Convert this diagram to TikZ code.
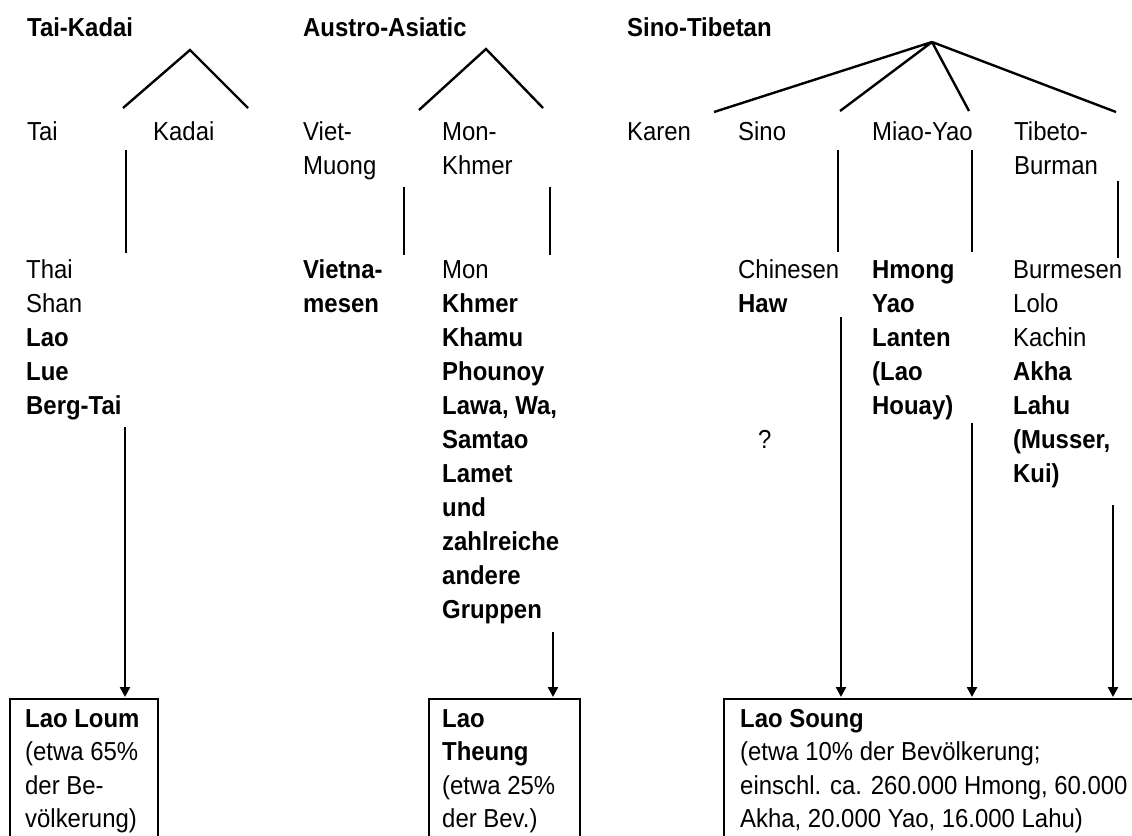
\documentclass[tikz,border=0pt]{standalone}
\usepackage{fontspec}
\setmainfont[FakeStretch=0.92]{Liberation Sans}
\usetikzlibrary{arrows.meta}
\newcommand\fl{\rule{0pt}{20pt}}
\begin{document}
\begin{tikzpicture}[x=1pt,y=-1pt,
  ln/.style={line width=2.4pt},
  arr/.style={line width=2.4pt,-{Triangle[length=10pt,width=10pt]},shorten >=1pt},
  txt/.style={anchor=north west,inner sep=0pt,align=left,font=\fontsize{26}{34}\selectfont},
  btxt/.style={txt,font=\fontsize{26}{33.5}\selectfont},
  box/.style={draw,line width=2.4pt,anchor=north west,inner sep=0pt}]
\useasboundingbox (0,0) rectangle (1132,835);
\clip (0,0) rectangle (1132,835);
% titles
\node[txt] (tk) at (27,16) {\fl\bfseries Tai-Kadai};
\node[txt] (aa) at (303,16) {\fl\bfseries Austro-Asiatic};
\node[txt] (st) at (627,16) {\fl\bfseries Sino-Tibetan};
% second level
\node[txt] (tai) at (27,120) {\fl Tai};
\node[txt] (kadai) at (153,120) {\fl Kadai};
\node[txt] (vm) at (303,120) {\fl Viet-\\Muong};
\node[txt] (mk) at (442,120) {\fl Mon-\\Khmer};
\node[txt] (karen) at (627,120) {\fl Karen};
\node[txt] (sino) at (738,120) {\fl Sino};
\node[txt] (my) at (872,120) {\fl Miao-Yao};
\node[txt] (tb) at (1014,120) {\fl Tibeto-\\Burman};
% third level
\node[txt] (thai) at (26,258) {\fl Thai\\Shan\\\textbf{Lao}\\\textbf{Lue}\\\textbf{Berg-Tai}};
\node[txt] (viet) at (303,258) {\fl\textbf{Vietna-}\\\textbf{mesen}};
\node[txt] (mon) at (442,258) {\fl Mon\\\textbf{Khmer}\\\textbf{Khamu}\\\textbf{Phounoy}\\\textbf{Lawa, Wa,}\\\textbf{Samtao}\\\textbf{Lamet}\\\textbf{und}\\\textbf{zahlreiche}\\\textbf{andere}\\\textbf{Gruppen}};
\node[txt] (chin) at (738,258) {\fl Chinesen\\\textbf{Haw}};
\node[txt] (q) at (758,428) {\fl ?};
\node[txt] (hmong) at (872,258) {\fl\textbf{Hmong}\\\textbf{Yao}\\\textbf{Lanten}\\\textbf{(Lao}\\\textbf{Houay)}};
\node[txt] (burm) at (1013,258) {\fl Burmesen\\Lolo\\Kachin\\\textbf{Akha}\\\textbf{Lahu}\\\textbf{(Musser,}\\\textbf{Kui)}};
% boxes
\node[box,minimum width=148pt,minimum height=170pt] (loum) at (9,698) {};
\node[box,minimum width=151pt,minimum height=170pt] (theung) at (428,698) {};
\node[box,minimum width=430pt,minimum height=170pt] (soung) at (723,698) {};
\node[btxt] (loumt) at (25,707) {\fl\textbf{Lao Loum}\\(etwa 65\%\\der Be-\\völkerung)};
\node[btxt] (theungt) at (442,707) {\fl\textbf{Lao}\\\textbf{Theung}\\(etwa 25\%\\der Bev.)};
\node[btxt] (soungt) at (740,707) {\fl\textbf{Lao Soung}\\(etwa 10\% der Bevölkerung;\\einschl. ca. 260.000 Hmong, 60.000\\Akha, 20.000 Yao, 16.000 Lahu)};
% tree branches
\coordinate (tkA) at (190,50); \coordinate (tkL) at (123,108); \coordinate (tkR) at (248,108);
\coordinate (aaA) at (486,49); \coordinate (aaL) at (419,110); \coordinate (aaR) at (543,108);
\coordinate (stA) at (932,42); \coordinate (st1) at (714,112); \coordinate (st2) at (840,111);
\coordinate (st3) at (969,111); \coordinate (st4) at (1116,112);
\draw[ln] (tkL) -- (tkA) -- (tkR);
\draw[ln] (aaL) -- (aaA) -- (aaR);
\draw[ln] (stA) -- (st1) (stA) -- (st2) (stA) -- (st3) (stA) -- (st4);
% vertical links
\coordinate (v1a) at (126,150); \coordinate (v1b) at (126,253);
\coordinate (v2a) at (404,187); \coordinate (v2b) at (404,255);
\coordinate (v3a) at (550,187); \coordinate (v3b) at (550,255);
\coordinate (v4a) at (838,150); \coordinate (v4b) at (838,252);
\coordinate (v5a) at (972,150); \coordinate (v5b) at (972,252);
\coordinate (v6a) at (1118,181); \coordinate (v6b) at (1118,258);
\draw[ln] (v1a) -- (v1b) (v2a) -- (v2b) (v3a) -- (v3b) (v4a) -- (v4b) (v5a) -- (v5b) (v6a) -- (v6b);
% arrows to boxes
\coordinate (a1) at (125,427);
\coordinate (a2) at (553,632);
\coordinate (a3) at (841,317);
\coordinate (a4) at (972,423);
\coordinate (a5) at (1113,505);
\draw[arr] (a1) -- (a1 |- loum.north);
\draw[arr] (a2) -- (a2 |- theung.north);
\draw[arr] (a3) -- (a3 |- soung.north);
\draw[arr] (a4) -- (a4 |- soung.north);
\draw[arr] (a5) -- (a5 |- soung.north);
\end{tikzpicture}
\end{document}
